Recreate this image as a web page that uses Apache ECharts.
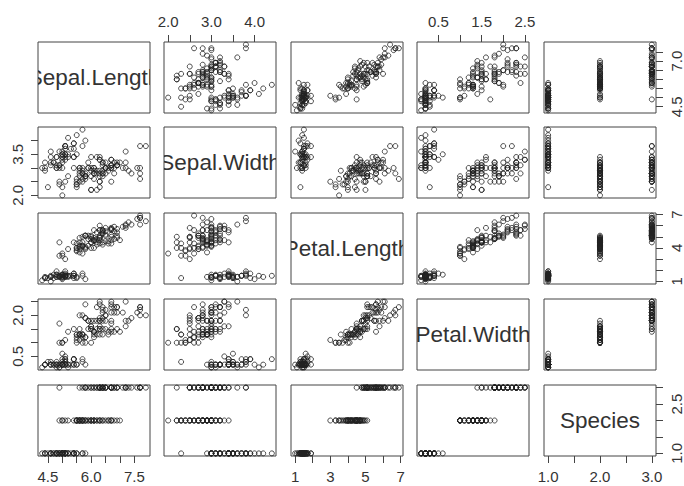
<!DOCTYPE html>
<html><head><meta charset="utf-8">
<script src="https://cdn.jsdelivr.net/npm/echarts@6/dist/echarts.min.js"></script>
<style>html,body{margin:0;padding:0;background:#fff}#c{width:684px;height:486px}</style>
</head><body><div id="c"></div>
<script>
const varNames = ['Sepal.Length','Sepal.Width','Petal.Length','Petal.Width','Species'];
const sepalLength = [
5.1,4.9,4.7,4.6,5.0,5.4,4.6,5.0,4.4,4.9,
5.4,4.8,4.8,4.3,5.8,5.7,5.4,5.1,5.7,5.1,
5.4,5.1,4.6,5.1,4.8,5.0,5.0,5.2,5.2,4.7,
4.8,5.4,5.2,5.5,4.9,5.0,5.5,4.9,4.4,5.1,
5.0,4.5,4.4,5.0,5.1,4.8,5.1,4.6,5.3,5.0,
7.0,6.4,6.9,5.5,6.5,5.7,6.3,4.9,6.6,5.2,
5.0,5.9,6.0,6.1,5.6,6.7,5.6,5.8,6.2,5.6,
5.9,6.1,6.3,6.1,6.4,6.6,6.8,6.7,6.0,5.7,
5.5,5.5,5.8,6.0,5.4,6.0,6.7,6.3,5.6,5.5,
5.5,6.1,5.8,5.0,5.6,5.7,5.7,6.2,5.1,5.7,
6.3,5.8,7.1,6.3,6.5,7.6,4.9,7.3,6.7,7.2,
6.5,6.4,6.8,5.7,5.8,6.4,6.5,7.7,7.7,6.0,
6.9,5.6,7.7,6.3,6.7,7.2,6.2,6.1,6.4,7.2,
7.4,7.9,6.4,6.3,6.1,7.7,6.3,6.4,6.0,6.9,
6.7,6.9,5.8,6.8,6.7,6.7,6.3,6.5,6.2,5.9];
const sepalWidth = [
3.5,3.0,3.2,3.1,3.6,3.9,3.4,3.4,2.9,3.1,
3.7,3.4,3.0,3.0,4.0,4.4,3.9,3.5,3.8,3.8,
3.4,3.7,3.6,3.3,3.4,3.0,3.4,3.5,3.4,3.2,
3.1,3.4,4.1,4.2,3.1,3.2,3.5,3.6,3.0,3.4,
3.5,2.3,3.2,3.5,3.8,3.0,3.8,3.2,3.7,3.3,
3.2,3.2,3.1,2.3,2.8,2.8,3.3,2.4,2.9,2.7,
2.0,3.0,2.2,2.9,2.9,3.1,3.0,2.7,2.2,2.5,
3.2,2.8,2.5,2.8,2.9,3.0,2.8,3.0,2.9,2.6,
2.4,2.4,2.7,2.7,3.0,3.4,3.1,2.3,3.0,2.5,
2.6,3.0,2.6,2.3,2.7,3.0,2.9,2.9,2.5,2.8,
3.3,2.7,3.0,2.9,3.0,3.0,2.5,2.9,2.5,3.6,
3.2,2.7,3.0,2.5,2.8,3.2,3.0,3.8,2.6,2.2,
3.2,2.8,2.8,2.7,3.3,3.2,2.8,3.0,2.8,3.0,
2.8,3.8,2.8,2.8,2.6,3.0,3.4,3.1,3.0,3.1,
3.1,3.1,2.7,3.2,3.3,3.0,2.5,3.0,3.4,3.0];
const petalLength = [
1.4,1.4,1.3,1.5,1.4,1.7,1.4,1.5,1.4,1.5,
1.5,1.6,1.4,1.1,1.2,1.5,1.3,1.4,1.7,1.5,
1.7,1.5,1.0,1.7,1.9,1.6,1.6,1.5,1.4,1.6,
1.6,1.5,1.5,1.4,1.5,1.2,1.3,1.4,1.3,1.5,
1.3,1.3,1.3,1.6,1.9,1.4,1.6,1.4,1.5,1.4,
4.7,4.5,4.9,4.0,4.6,4.5,4.7,3.3,4.6,3.9,
3.5,4.2,4.0,4.7,3.6,4.4,4.5,4.1,4.5,3.9,
4.8,4.0,4.9,4.7,4.3,4.4,4.8,5.0,4.5,3.5,
3.8,3.7,3.9,5.1,4.5,4.5,4.7,4.4,4.1,4.0,
4.4,4.6,4.0,3.3,4.2,4.2,4.2,4.3,3.0,4.1,
6.0,5.1,5.9,5.6,5.8,6.6,4.5,6.3,5.8,6.1,
5.1,5.3,5.5,5.0,5.1,5.3,5.5,6.7,6.9,5.0,
5.7,4.9,6.7,4.9,5.7,6.0,4.8,4.9,5.6,5.8,
6.1,6.4,5.6,5.1,5.6,6.1,5.6,5.5,4.8,5.4,
5.6,5.1,5.1,5.9,5.7,5.2,5.0,5.2,5.4,5.1];
const petalWidth = [
0.2,0.2,0.2,0.2,0.2,0.4,0.3,0.2,0.2,0.1,
0.2,0.2,0.1,0.1,0.2,0.4,0.4,0.3,0.3,0.3,
0.2,0.4,0.2,0.5,0.2,0.2,0.4,0.2,0.2,0.2,
0.2,0.4,0.1,0.2,0.2,0.2,0.2,0.1,0.2,0.2,
0.3,0.3,0.2,0.6,0.4,0.3,0.2,0.2,0.2,0.2,
1.4,1.5,1.5,1.3,1.5,1.3,1.6,1.0,1.3,1.4,
1.0,1.5,1.0,1.4,1.3,1.4,1.5,1.0,1.5,1.1,
1.8,1.3,1.5,1.2,1.3,1.4,1.4,1.7,1.5,1.0,
1.1,1.0,1.2,1.6,1.5,1.6,1.5,1.3,1.3,1.3,
1.2,1.4,1.2,1.0,1.3,1.2,1.3,1.3,1.1,1.3,
2.5,1.9,2.1,1.8,2.2,2.1,1.7,1.8,1.8,2.5,
2.0,1.9,2.1,2.0,2.4,2.3,1.8,2.2,2.3,1.5,
2.3,2.0,2.0,1.8,2.1,1.8,1.8,1.8,2.1,1.6,
1.9,2.0,2.2,1.5,1.4,2.3,2.4,1.8,1.8,2.1,
2.4,2.3,1.9,2.3,2.5,2.3,1.9,2.0,2.3,1.8];
const species = [
1,1,1,1,1,1,1,1,1,1, 1,1,1,1,1,1,1,1,1,1, 1,1,1,1,1,1,1,1,1,1, 1,1,1,1,1,1,1,1,1,1, 1,1,1,1,1,1,1,1,1,1,
2,2,2,2,2,2,2,2,2,2, 2,2,2,2,2,2,2,2,2,2, 2,2,2,2,2,2,2,2,2,2, 2,2,2,2,2,2,2,2,2,2, 2,2,2,2,2,2,2,2,2,2,
3,3,3,3,3,3,3,3,3,3, 3,3,3,3,3,3,3,3,3,3, 3,3,3,3,3,3,3,3,3,3, 3,3,3,3,3,3,3,3,3,3, 3,3,3,3,3,3,3,3,3,3];
const tickValues = [
  [4.5,5,5.5,6,6.5,7,7.5],
  [2,2.5,3,3.5,4],
  [1,2,3,4,5,6,7],
  [0.5,1,1.5,2,2.5],
  [1,1.5,2,2.5,3]];
const xTickLabels = [['4.5','6.0','7.5'],['2.0','3.0','4.0'],['1','3','5','7'],['0.5','1.5','2.5'],['1.0','2.0','3.0']];
const yTickLabels = [['4.5','7.0'],['2.0','3.5'],['1','4','7'],['0.5','2.0'],['1.0','2.5']];

const vars = [sepalLength, sepalWidth, petalLength, petalWidth, species];
const FONT = '"Liberation Sans", Arial, Helvetica, sans-serif';
const INK = '#333';
const lefts = [38, 164, 291, 417, 544];
const tops = [42, 127, 213, 299, 385];
const PW = 112, PH = 71;

function limits(arr) {
  const lo = Math.min(...arr), hi = Math.max(...arr);
  const d = (hi - lo) * 0.04;
  return [lo - d, hi + d];
}
const lims = vars.map(limits);

function labelFmt(labels) {
  return function (v) {
    const s = labels.find(t => Math.abs(parseFloat(t) - v) < 1e-9);
    return s === undefined ? '' : s;
  };
}

const grid = [], xAxis = [], yAxis = [], series = [];
let k = 0;
for (let i = 0; i < 5; i++) {
  for (let j = 0; j < 5; j++) {
    grid.push({left: lefts[j], top: tops[i], width: PW, height: PH, show: true,
      borderColor: '#444', borderWidth: 1, backgroundColor: 'transparent', outerBoundsMode: 'none'});
    const topAx = (i === 0 && j % 2 === 1);
    const botAx = (i === 4 && j % 2 === 0);
    const showX = topAx || botAx;
    xAxis.push({gridIndex: k, type: 'value', min: lims[j][0], max: lims[j][1],
      position: topAx ? 'top' : 'bottom',
      axisLine: {show: false}, splitLine: {show: false},
      axisTick: {show: showX, customValues: tickValues[j], length: 7, lineStyle: {color: '#444', width: 1}},
      axisLabel: {show: showX, customValues: xTickLabels[j].map(Number), formatter: labelFmt(xTickLabels[j]),
        fontSize: 15, color: INK, fontFamily: FONT, margin: 13}
    });
    const leftAx = (j === 0 && i % 2 === 1);
    const rightAx = (j === 4 && i % 2 === 0);
    const showY = leftAx || rightAx;
    yAxis.push({gridIndex: k, type: 'value', min: lims[i][0], max: lims[i][1],
      position: rightAx ? 'right' : 'left',
      axisLine: {show: false}, splitLine: {show: false},
      axisTick: {show: showY, customValues: tickValues[i], length: 7, lineStyle: {color: '#444', width: 1}},
      axisLabel: {show: showY, customValues: yTickLabels[i].map(Number), formatter: labelFmt(yTickLabels[i]),
        fontSize: 15, color: INK, fontFamily: FONT, margin: 13, rotate: 90}
    });
    if (i === j) {
      const name = varNames[i];
      series.push({type: 'custom', xAxisIndex: k, yAxisIndex: k, clip: true, silent: true,
        data: [[(lims[j][0] + lims[j][1]) / 2, (lims[i][0] + lims[i][1]) / 2]],
        renderItem: function (params, api) {
          const p = api.coord([api.value(0), api.value(1)]);
          return {type: 'text', x: p[0], y: p[1],
            style: {text: name, fontSize: 22.5, fontFamily: FONT, fill: INK, align: 'center', verticalAlign: 'middle'}};
        }});
    } else {
      const xs = vars[j], ys = vars[i];
      series.push({type: 'scatter', xAxisIndex: k, yAxisIndex: k, silent: true,
        symbol: 'circle', symbolSize: 5,
        itemStyle: {color: 'rgba(0,0,0,0)', borderColor: '#222', borderWidth: 1},
        data: xs.map((x, n) => [x, ys[n]])});
    }
    k++;
  }
}

const chart = echarts.init(document.getElementById('c'), null, {renderer: 'svg'});
chart.setOption({backgroundColor: '#fff', animation: false, grid, xAxis, yAxis, series});
</script>
</body></html>
